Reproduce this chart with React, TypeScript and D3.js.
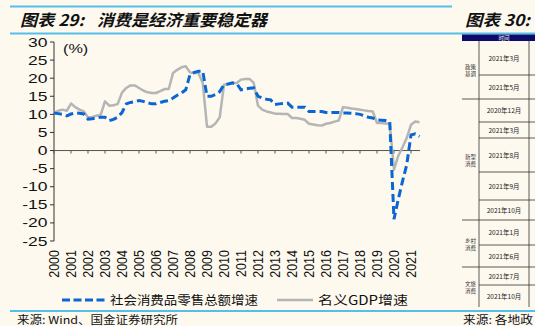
import React from "react";
import * as d3 from "d3";

const years = ["2000","2001","2002","2003","2004","2005","2006","2007","2008","2009","2010","2011","2012","2013","2014","2015","2016","2017","2018","2019","2020","2021"];
const yTicks = [30, 25, 20, 15, 10, 5, 0, -5, -10, -15, -20, -25];
const startYear = 2000;
// quarterly values, 2000Q1 .. 2021Q3
const retailSales = [
  10.4, 10.2, 10.0, 9.6,
  10.1, 10.4, 10.3, 10.1,
  8.7, 8.8, 9.0, 9.2,
  9.2, 8.3, 8.6, 9.2,
  10.5, 12.9, 13.3, 13.5,
  13.8, 13.6, 13.2, 12.9,
  12.9, 13.3, 13.6, 13.8,
  14.5, 15.3, 15.9, 16.8,
  21.0, 21.6, 21.9, 21.9,
  15.0, 15.0, 15.5, 16.3,
  18.2, 18.4, 18.7, 18.5,
  16.8, 17.0, 17.2, 17.3,
  15.0, 14.5, 14.2, 14.0,
  12.7, 12.9, 13.0, 13.1,
  12.0, 12.0, 12.0, 12.0,
  10.8, 10.8, 10.8, 10.8,
  10.5, 10.5, 10.5, 10.5,
  10.4, 10.4, 10.3, 10.2,
  10.0, 9.6, 9.2, 9.0,
  8.5, 8.4, 8.3, 8.0,
  -19.0, -13.5, -8.5, -3.9,
  4.3, 4.6, 3.9,
];
const nominalGDP = [
  10.4, 11.0, 11.3, 11.0,
  13.0, 12.0, 11.3, 10.8,
  9.2, 9.3, 9.6, 9.9,
  13.6, 12.4, 12.5, 12.9,
  16.0, 17.3, 18.0, 18.0,
  17.3, 16.6, 16.1, 15.9,
  15.9, 16.4, 17.0, 17.0,
  21.4, 22.3, 23.0, 23.3,
  21.6, 21.4, 21.4, 18.7,
  6.6, 6.6, 7.5, 9.2,
  18.2, 18.4, 18.5, 18.7,
  19.6, 19.8, 19.8, 18.7,
  12.4, 11.3, 10.8, 10.5,
  10.2, 10.2, 10.1, 10.1,
  9.0, 9.0, 8.8, 8.5,
  7.4, 7.2, 7.0, 6.9,
  7.4, 7.6, 8.0, 8.3,
  12.0, 11.8, 11.6, 11.5,
  11.3, 11.1, 10.9, 10.8,
  7.6, 7.6, 7.5, 7.4,
  -5.3, -1.5, 0.9, 3.5,
  7.1, 8.0, 7.8,
];
const seriesNames = ["社会消费品零售总额增速", "名义GDP增速"];
const tableDates = ["2021年3月","2021年5月","2020年12月","2021年3月","2021年8月","2021年9月","2021年10月","2021年1月","2021年6月","2021年7月","2021年10月"];
const tableGroups = [["政策","基调"],["新型","消费"],["乡村","消费"],["文旅","消费"]];

const BG = "#fdf9ef";
const BLUE = "#0a66d2";
const GREY = "#b5b5b5";
const RULE = "#55bfea";
const CJK = "'Noto Sans CJK SC', sans-serif";
const NUM = "'Liberation Sans', Arial, sans-serif";

export default function App() {
  const W = 535, H = 326;
  const x = d3.scaleLinear().domain([2000, 2021.53]).range([54, 420]);
  const y = d3.scaleLinear().domain([-25, 30]).range([241, 42]);
  const toPts = (arr: number[]) => arr.map((v, i) => [startYear + i / 4, v] as [number, number]);
  const line = d3.line<[number, number]>().x(d => x(d[0])).y(d => y(d[1]));

  const rowTops = [41, 75, 99, 122, 138, 172, 200, 220, 245, 267, 285, 307];
  const fullRows = [99, 220, 267];
  const groupSpans = [[41, 99], [99, 220], [220, 267], [267, 307]];

  return (
    <svg width={W} height={H} style={{ display: "block", position: "absolute", left: 0, top: 0 }}>
      <rect x={0} y={0} width={W} height={H} fill={BG} />
      <line x1={10} x2={452} y1={6.5} y2={6.5} stroke={RULE} strokeWidth={2} />
      <line x1={10} x2={535} y1={33.5} y2={33.5} stroke={RULE} strokeWidth={2} />
      <line x1={10} x2={535} y1={311} y2={311} stroke={RULE} strokeWidth={2} />
      <text x={20} y={26} fontFamily={CJK} fontStyle="italic" fontWeight="bold" fontSize={16} fill="#111" textLength={64} lengthAdjust="spacingAndGlyphs">图表 29:</text>
      <text x={97} y={26} fontFamily={CJK} fontStyle="italic" fontWeight="bold" fontSize={16} fill="#111" textLength={170} lengthAdjust="spacingAndGlyphs">消费是经济重要稳定器</text>
      <text x={465} y={26} fontFamily={CJK} fontStyle="italic" fontWeight="bold" fontSize={16} fill="#111" textLength={65} lengthAdjust="spacingAndGlyphs">图表 30:</text>

      {/* y axis */}
      <line x1={54} x2={54} y1={y(30)} y2={y(-25)} stroke="#333" strokeWidth={1} />
      {yTicks.map(t => (
        <g key={t}>
          <line x1={50} x2={54} y1={y(t)} y2={y(t)} stroke="#333" strokeWidth={1} />
          <text transform={`translate(47.5,${y(t) + 4.5}) scale(1.4,1)`} textAnchor="end" fontFamily={NUM} fontSize={12.5} fill="#111">{t}</text>
        </g>
      ))}
      <text transform="translate(63,53) scale(1.25,1)" fontFamily={NUM} fontSize={13} fill="#111">(%)</text>

      {/* x axis at zero */}
      <line x1={54} x2={420} y1={y(0)} y2={y(0)} stroke="#555" strokeWidth={1} />
      {years.map(yr => (
        <g key={yr}>
          <line x1={x(+yr)} x2={x(+yr)} y1={y(0)} y2={y(0) + 3} stroke="#555" strokeWidth={1} />
          <text transform={`translate(${x(+yr) + 5},250) rotate(-90) scale(1,1.15)`} textAnchor="end" fontFamily={NUM} fontSize={12.5} fill="#111">{yr}</text>
        </g>
      ))}

      {/* series */}
      <path d={line(toPts(nominalGDP)) || ""} fill="none" stroke={GREY} strokeWidth={2.5} strokeLinejoin="round" />
      <path d={line(toPts(retailSales)) || ""} fill="none" stroke={BLUE} strokeWidth={3} strokeDasharray="8,4" />

      {/* legend */}
      <line x1={62} x2={105} y1={300} y2={300} stroke={BLUE} strokeWidth={3} strokeDasharray="8,3.5" />
      <text x={110} y={305} fontFamily={CJK} fontSize={12.5} fill="#111" textLength={148} lengthAdjust="spacingAndGlyphs">{seriesNames[0]}</text>
      <line x1={277} x2={313} y1={300} y2={300} stroke={GREY} strokeWidth={2.5} />
      <text x={318} y={305} fontFamily={CJK} fontSize={12.5} fill="#111" textLength={90} lengthAdjust="spacingAndGlyphs">{seriesNames[1]}</text>

      {/* source */}
      <text x={17} y={324} fontFamily={CJK} fontSize={11} fill="#111" textLength={161} lengthAdjust="spacingAndGlyphs">来源:  Wind、国金证券研究所</text>
      <text x={463} y={324} fontFamily={CJK} fontSize={11} fill="#111" textLength={70} lengthAdjust="spacingAndGlyphs">来源:  各地政</text>

      {/* partial table */}
      <rect x={462} y={34.5} width={73} height={6.5} fill="#0b0b6b" />
      <text x={504} y={40} textAnchor="middle" fontFamily={CJK} fontSize={5.5} fill="#fff">时间</text>
      <line x1={479} x2={479} y1={41} y2={307} stroke="#333" strokeWidth={0.8} />
      <line x1={529} x2={529} y1={41} y2={307} stroke="#333" strokeWidth={0.8} />
      {rowTops.slice(1, -1).map(r => (
        <line key={r} x1={fullRows.includes(r) ? 462 : 479} x2={535} y1={r} y2={r} stroke="#333" strokeWidth={0.8} />
      ))}
      {tableDates.map((d, i) => (
        <text key={i} x={504} y={(rowTops[i] + rowTops[i + 1]) / 2 + 2.5} textAnchor="middle" fontFamily={CJK} fontSize={6.5} fill="#222">{d}</text>
      ))}
      {tableGroups.map((g, i) => {
        const cy = (groupSpans[i][0] + groupSpans[i][1]) / 2;
        return (
          <g key={i}>
            <text x={470.5} y={cy - 1} textAnchor="middle" fontFamily={CJK} fontSize={5.5} fill="#333">{g[0]}</text>
            <text x={470.5} y={cy + 6} textAnchor="middle" fontFamily={CJK} fontSize={5.5} fill="#333">{g[1]}</text>
          </g>
        );
      })}
    </svg>
  );
}
